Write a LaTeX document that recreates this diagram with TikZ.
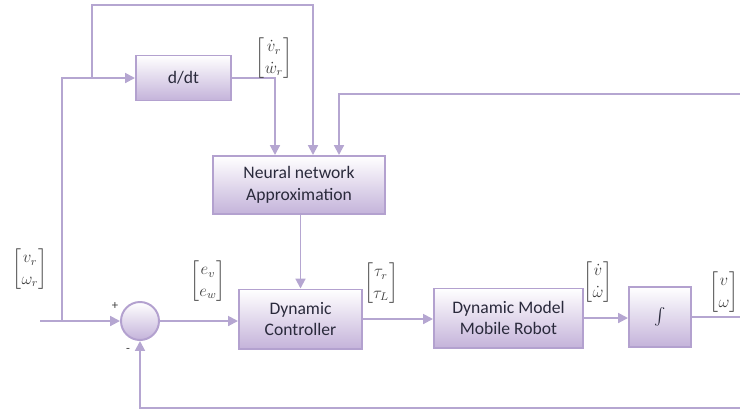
\documentclass[tikz,border=0pt]{standalone}
\usepackage{amsmath}
\usepackage{fontspec}
\setmainfont{Carlito}
\usetikzlibrary{arrows.meta, calc}
\definecolor{cLinea}{HTML}{B5A6D1}
\definecolor{cBorde}{HTML}{B3A1CF}
\definecolor{cRelleno}{HTML}{C4B3DA}
\definecolor{cTexto}{HTML}{2A2A3C}
\renewcommand{\arraystretch}{1.1}
\tikzset{
    x=0.025cm, y=-0.025cm, font=\fontsize{12.5}{15.5}\selectfont,
    blk/.style={draw=cBorde, line width=1.4pt, top color=white,
                bottom color=cRelleno, text=cTexto, align=center, inner sep=0pt},
    sumnode/.style={circle, draw=cBorde, line width=1.4pt, top color=white,
                bottom color=cRelleno, minimum size=0.95cm, inner sep=0pt},
    flow/.style={-{Triangle[length=7pt, width=7pt]}, line width=1.4pt, cLinea},
    wire/.style={line width=1.4pt, cLinea},
    sig/.style={text=black!75, inner sep=0pt, font=\large},
}

\begin{document}
\begin{tikzpicture}
    \useasboundingbox (0,0) rectangle (740,410);

    \node[blk, minimum width=2.375cm, minimum height=1.125cm] (ddt)
        at (183.5,78) {d/dt};
    \node[blk, minimum width=4.3cm, minimum height=1.45cm] (nn)
        at (299,185) {Neural network\\Approximation};
    \node[blk, minimum width=3.075cm, minimum height=1.475cm] (ctrl)
        at (300.5,319) {Dynamic\\Controller};
    \node[blk, minimum width=3.725cm, minimum height=1.475cm] (model)
        at (508.5,318) {Dynamic Model\\Mobile Robot};
    \node[blk, minimum width=1.55cm, minimum height=1.5cm] (integ)
        at (660,317) {$\int$};
    \node[sumnode] (sum) at (140,321) {};

    \coordinate (in)   at (40,321);
    \coordinate (b1)   at (62,321);
    \coordinate (b2)   at (92,78);
    \coordinate (top)  at (313,5);
    \coordinate (fbR)  at (740,94);
    \coordinate (out)  at (740,317);
    \coordinate (fbB)  at (740,408);

    % referencia: rama hacia d/dt y rama directa a la red neuronal
    \draw[flow] (in) -- (sum);
    \draw[flow] (b1) |- (ddt.west);
    \draw[flow] (b2) |- (top) -- (top |- nn.north);
    \draw[flow] (ddt.east) -| ($(nn.north)+(-24,0)$);
    \draw[flow] (fbR) -| ($(nn.north)+(40,0)$);

    \draw[flow] (nn.south -| ctrl.north) -- (ctrl.north);
    \draw[flow] (sum.east) -- (sum.east -| ctrl.west);
    \draw[flow] (ctrl.east) -- (ctrl.east -| model.west);
    \draw[flow] (model.east) -- (model.east -| integ.west);
    \draw[wire] (integ.east) -- (out);
    \draw[flow] (fbB) -| (sum.south);

    \node[sig] (lRef)  at (30,269)  {$\begin{bmatrix} v_r\\ \omega_r \end{bmatrix}$};
    \node[sig] (lDRef) at (274,58)  {$\begin{bmatrix} \dot{v}_r\\ \dot{w}_r \end{bmatrix}$};
    \node[sig] (lErr)  at (208,281) {$\begin{bmatrix} e_v\\ e_w \end{bmatrix}$};
    \node[sig] (lTau)  at (381,283) {$\begin{bmatrix} \tau_r\\ \tau_L \end{bmatrix}$};
    \node[sig] (lAcc)  at (598,282) {$\begin{bmatrix} \dot{v}\\ \dot{\omega} \end{bmatrix}$};
    \node[sig] (lVel)  at (724,292) {$\begin{bmatrix} v\\ \omega \end{bmatrix}$};
    \node[sig, font=\small] (plus)  at (115,306) {+};
    \node[sig, font=\small] (minus) at (128,350) {-};
\end{tikzpicture}
\end{document}
